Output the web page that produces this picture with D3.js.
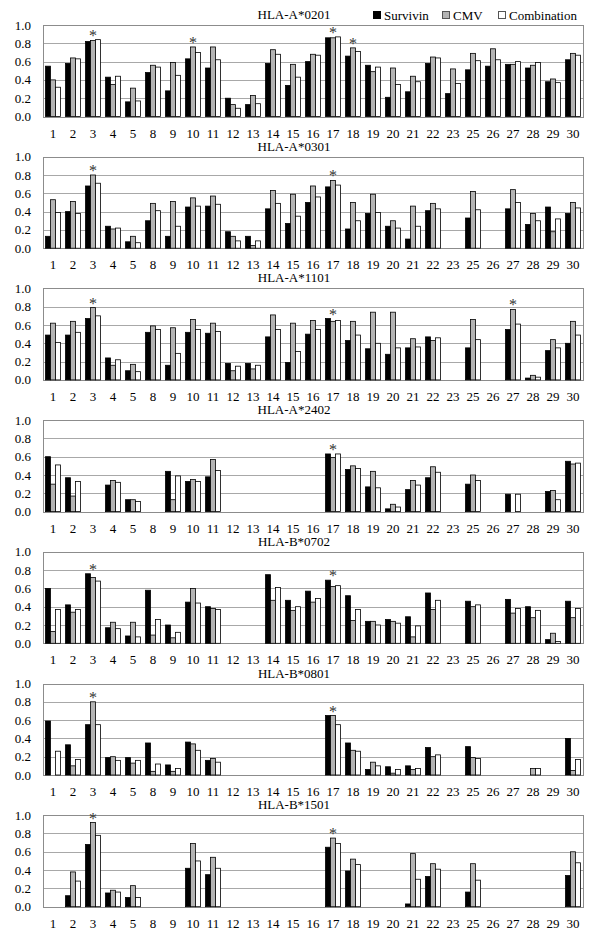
<!DOCTYPE html>
<html>
<head>
<meta charset="utf-8">
<script src="https://cdn.jsdelivr.net/npm/d3@7"></script>
<style>
  body { margin: 0; background: #fff; }
</style>
</head>
<body>
<div id="chart"></div>
<script>
// categories on the x axis (peptide numbers)
var categories = ["1","2","3","4","5","8","9","10","11","12","13","14","15","16","17","18","19","20","21","22","23","25","26","27","28","29","30"];
var alleles = ["HLA-A*0201","HLA-A*0301","HLA-A*1101","HLA-A*2402","HLA-B*0702","HLA-B*0801","HLA-B*1501"];
var seriesNames = ["Survivin","CMV","Combination"];
var seriesColors = ["#000000","#b4b4b4","#ffffff"];
var yTicks = [0, 0.2, 0.4, 0.6, 0.8, 1.0];

// one row per allele, one value per category (null = no bar)
var survivin = [
  [0.55,0.58,0.82,0.43,0.16,0.48,0.28,0.63,0.53,0.20,0.13,0.58,0.34,0.60,0.86,0.66,0.56,0.21,0.27,0.58,0.25,0.51,0.55,0.57,0.53,0.38,0.62],
  [0.13,0.40,0.68,0.24,0.07,0.30,0.13,0.45,0.46,0.18,0.13,0.43,0.27,0.50,0.67,0.21,0.38,0.24,0.10,0.41,null,0.33,null,0.43,0.26,0.45,0.38],
  [0.49,0.49,0.67,0.24,0.10,0.52,0.16,0.52,0.51,0.18,0.18,0.47,0.19,0.50,0.67,0.43,0.34,0.28,0.35,0.47,null,0.35,null,0.55,0.02,0.32,0.40],
  [0.60,0.37,null,0.29,0.13,null,0.44,0.33,0.38,null,null,null,null,null,0.63,0.46,0.27,0.03,0.24,0.37,null,0.30,null,0.19,null,0.22,0.55],
  [0.60,0.42,0.76,0.17,0.08,0.58,0.20,0.45,0.40,null,null,0.75,0.47,0.57,0.69,0.52,0.24,0.26,0.29,0.55,null,0.46,null,0.48,0.40,0.04,0.46],
  [0.59,0.33,0.55,0.19,0.19,0.35,0.11,0.36,0.16,null,null,null,null,null,0.65,0.35,0.06,0.09,0.10,0.30,null,0.31,null,null,null,null,0.40],
  [null,0.12,0.68,0.15,0.10,null,null,0.42,0.35,null,null,null,null,null,0.65,0.39,null,null,0.03,0.33,null,0.16,null,null,null,null,0.34]
];
var cmv = [
  [0.40,0.64,0.83,0.35,0.31,0.56,0.59,0.76,0.76,0.13,0.23,0.73,0.57,0.68,0.86,0.75,0.49,0.53,0.44,0.65,0.52,0.69,0.74,0.57,0.56,0.41,0.69],
  [0.53,0.51,0.80,0.21,0.13,0.49,0.51,0.55,0.57,0.13,0.03,0.63,0.59,0.68,0.74,0.50,0.59,0.30,0.46,0.49,null,0.62,null,0.64,0.38,0.18,0.50],
  [0.62,0.64,0.79,0.16,0.17,0.59,0.57,0.66,0.62,0.10,0.12,0.71,0.62,0.65,0.64,0.64,0.74,0.74,0.45,0.43,null,0.66,null,0.77,0.05,0.44,0.64],
  [0.30,0.17,null,0.34,0.13,null,0.13,0.35,0.57,null,null,null,null,null,0.59,0.50,0.44,0.08,0.34,0.49,null,0.40,null,null,null,0.23,0.52],
  [0.13,0.34,0.72,0.23,0.23,0.09,0.06,0.60,0.38,null,null,0.47,0.36,0.45,0.62,0.25,0.24,0.24,0.07,0.37,null,0.40,null,0.33,0.28,0.11,0.28],
  [null,0.10,0.80,0.20,0.13,0.04,0.04,0.34,0.18,null,null,null,null,null,0.65,0.27,0.14,0.02,0.06,0.20,null,0.19,null,null,0.07,null,0.05],
  [null,0.38,0.92,0.18,0.23,null,null,0.69,0.54,null,null,null,null,null,0.75,0.52,null,null,0.58,0.47,null,0.47,null,null,null,null,0.60]
];
var combination = [
  [0.32,0.63,0.84,0.44,0.17,0.54,0.45,0.70,0.62,0.09,0.14,0.68,0.43,0.67,0.87,0.71,0.54,0.35,0.38,0.64,0.36,0.61,0.62,0.60,0.59,0.37,0.67],
  [0.39,0.38,0.71,0.22,0.06,0.41,0.24,0.46,0.48,0.08,0.08,0.49,0.35,0.56,0.69,0.30,0.39,0.22,0.24,0.43,null,0.42,null,0.50,0.30,0.32,0.44],
  [0.41,0.52,0.70,0.22,0.09,0.55,0.29,0.55,0.53,0.15,0.16,0.55,0.31,0.55,0.65,0.49,0.40,0.35,0.36,0.46,null,0.44,null,0.61,0.03,0.35,0.49],
  [0.51,0.33,null,0.32,0.11,null,0.39,0.33,0.45,null,null,null,null,null,0.63,0.47,0.26,0.05,0.29,0.43,null,0.34,null,0.19,null,0.13,0.53],
  [0.37,0.37,0.68,0.16,0.07,0.26,0.12,0.44,0.37,null,null,0.61,0.40,0.49,0.63,0.37,0.20,0.22,0.19,0.47,null,0.42,null,0.38,0.36,0.02,0.38],
  [0.26,0.17,0.55,0.16,0.16,0.12,0.07,0.27,0.14,null,null,null,null,null,0.55,0.26,0.10,0.06,0.07,0.22,null,0.18,null,null,0.07,null,0.17],
  [null,0.28,0.78,0.16,0.10,null,null,0.50,0.42,null,null,null,null,null,0.69,0.46,null,null,0.30,0.41,null,0.29,null,null,null,null,0.48]
];
// categories marked with an asterisk in each panel
var starred = [["3","10","17","18"],["3","17"],["3","17","27"],["17"],["3","17"],["3","17"],["3","17"]];

var width = 600, height = 941;
var left = 43, right = 583;
var firstTop = 25, step = 131.7, plotH = 91.5;

var svg = d3.select("#chart").append("svg")
  .attr("width", width)
  .attr("height", height)
  .attr("font-family", "'Liberation Serif', 'Times New Roman', serif")
  .style("background", "#fff");

var x = d3.scaleBand().domain(categories).range([left, right]).paddingInner(0.25).paddingOuter(0.125);
var xs = d3.scaleBand().domain(seriesNames).range([0, x.bandwidth()]);
var allSeries = [survivin, cmv, combination];

alleles.forEach(function(name, p) {
  var top = firstTop + p * step;
  var y = d3.scaleLinear().domain([0, 1]).range([top + plotH, top]);
  var g = svg.append("g");

  // grid lines
  g.selectAll(".grid").data(yTicks.slice(1)).enter().append("line")
    .attr("x1", left).attr("x2", right)
    .attr("y1", function(d) { return Math.round(y(d)) + 0.5; })
    .attr("y2", function(d) { return Math.round(y(d)) + 0.5; })
    .attr("stroke", "#a8a8a8").attr("stroke-width", 1);

  // plot border
  g.append("rect")
    .attr("x", left + 0.5).attr("y", Math.round(top) + 0.5)
    .attr("width", right - left).attr("height", Math.round(y(0)) - Math.round(top))
    .attr("fill", "none").attr("stroke", "#8c8c8c");

  // y axis labels
  g.selectAll(".ylab").data(yTicks).enter().append("text")
    .attr("x", 31).attr("y", function(d) { return y(d); })
    .attr("dy", "0.35em")
    .attr("text-anchor", "end")
    .attr("font-size", 13)
    .text(function(d) { return d3.format(".1f")(d); });

  // bars
  allSeries.forEach(function(rows, s) {
    var vals = rows[p];
    g.selectAll(".bar" + s).data(categories.map(function(c, i) { return {c: c, v: vals[i]}; })
        .filter(function(d) { return d.v != null; }))
      .enter().append("rect")
      .attr("x", function(d) { return x(d.c) + xs(seriesNames[s]); })
      .attr("y", function(d) { return y(d.v); })
      .attr("width", xs.bandwidth())
      .attr("height", function(d) { return y(0) - y(d.v); })
      .attr("fill", seriesColors[s])
      .attr("stroke", "#000").attr("stroke-width", 0.8);
  });

  // asterisks
  g.selectAll(".star").data(starred[p]).enter().append("text")
    .attr("x", function(c) { return x(c) + x.bandwidth() / 2; })
    .attr("y", function(c) {
      var i = categories.indexOf(c);
      var m = d3.max(allSeries, function(r) { return r[p][i] || 0; });
      return y(m) + 1;
    })
    .attr("text-anchor", "middle")
    .attr("font-size", 16)
    .attr("fill", "#333")
    .text("*");

  // x labels
  g.selectAll(".xlab").data(categories).enter().append("text")
    .attr("x", function(c) { return x(c) + x.bandwidth() / 2; })
    .attr("y", y(0) + 21)
    .attr("text-anchor", "middle")
    .attr("font-size", 13)
    .text(function(c) { return c; });

  // panel title
  g.append("text")
    .attr("x", 294).attr("y", top - 6)
    .attr("text-anchor", "middle")
    .attr("font-size", 13)
    .text(name);
});

// legend
var legX = [373, 442, 498];
var legend = svg.selectAll(".leg").data(seriesNames).enter().append("g")
  .attr("transform", function(d, i) { return "translate(" + legX[i] + ",15)"; });
legend.append("rect")
  .attr("x", 0.5).attr("y", -3.5).attr("width", 7).attr("height", 7)
  .attr("fill", function(d, i) { return seriesColors[i]; })
  .attr("stroke", function(d, i) { return i == 0 ? "#000" : "#555"; });
legend.append("text")
  .attr("x", 11).attr("y", 0).attr("dy", "0.35em")
  .attr("font-size", 13)
  .text(function(d) { return d; });
</script>
</body>
</html>
